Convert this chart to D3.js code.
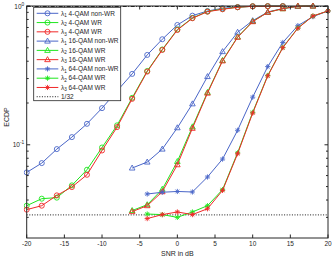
<!DOCTYPE html>
<html>
<head>
<meta charset="utf-8">
<script src="https://cdn.jsdelivr.net/npm/d3@7"></script>
<style>
  body { margin: 0; background: white; }
  text { font-family: "Liberation Sans", Arial, sans-serif; fill: #262626; }
</style>
</head>
<body>
<div id="chart"></div>
<script>
// SNR grid for each modulation
var snr4 = [-20, -18, -16, -14, -12, -10, -8, -6, -4, -2, 0, 2, 4, 6, 8, 10, 12, 14];
var snr16 = [-6, -4, -2, 0, 2, 4, 6, 8, 10, 12, 14, 16, 18];
var snr64 = [-4, -2, 0, 2, 4, 6, 8, 10, 12, 14, 16, 18, 20];

// ECDP values
var qam4NonWR = [0.0632, 0.0738, 0.0931, 0.1136, 0.1416, 0.1837, 0.2446, 0.3242, 0.4441, 0.5761, 0.730, 0.852, 0.920, 0.963, 0.983, 0.995, 0.998, 0.999];
var qam4WR2 = [0.0364, 0.0409, 0.0416, 0.0510, 0.0661, 0.0956, 0.1381, 0.218, 0.340, 0.486, 0.677, 0.820, 0.913, 0.951, 0.980, 0.995, 0.996, 0.996];
var qam4WR3 = [0.0341, 0.0364, 0.0432, 0.0496, 0.0608, 0.0910, 0.1341, 0.2143, 0.3368, 0.4825, 0.672, 0.816, 0.910, 0.947, 0.979, 0.995, 0.996, 0.996];
var qam16NonWR = [0.0680, 0.0751, 0.0931, 0.1326, 0.1972, 0.310, 0.469, 0.647, 0.784, 0.905, 0.960, 0.992, 1.0];
var qam16WR2 = [0.0336, 0.0370, 0.0478, 0.0758, 0.1347, 0.2385, 0.4055, 0.598, 0.774, 0.901, 0.956, 0.998, 0.999];
var qam16WR3 = [0.0330, 0.0364, 0.0459, 0.0718, 0.1314, 0.2355, 0.402, 0.595, 0.771, 0.901, 0.956, 0.998, 0.999];
var qam64NonWR = [0.0442, 0.0455, 0.0461, 0.0457, 0.0586, 0.0789, 0.1272, 0.2203, 0.366, 0.546, 0.722, 0.838, 0.921];
var qam64WR2 = [0.0317, 0.0314, 0.0300, 0.0328, 0.0364, 0.0475, 0.0876, 0.1713, 0.316, 0.503, 0.694, 0.847, 0.921];
var qam64WR3 = [0.0294, 0.0314, 0.0328, 0.0314, 0.0346, 0.0469, 0.0862, 0.1691, 0.3136, 0.501, 0.691, 0.847, 0.921];

var seriesNames = ["4-QAM non-WR", "4-QAM WR", "4-QAM WR", "16-QAM non-WR", "16-QAM WR", "16-QAM WR", "64-QAM non-WR", "64-QAM WR", "64-QAM WR"];
var lambdaIdx = [1, 2, 3, 1, 2, 3, 1, 2, 3];
var xTicks = [-20, -15, -10, -5, 0, 5, 10, 15, 20];
var threshold = 1 / 32;

var blue = "#4a66c8", green = "#1ee61e", red = "#f02828";

var series = [
  { x: snr4, y: qam4NonWR, color: blue, marker: "circle" },
  { x: snr4, y: qam4WR2, color: green, marker: "circle" },
  { x: snr4, y: qam4WR3, color: red, marker: "circle" },
  { x: snr16, y: qam16NonWR, color: blue, marker: "triangle" },
  { x: snr16, y: qam16WR2, color: green, marker: "triangle" },
  { x: snr16, y: qam16WR3, color: red, marker: "triangle" },
  { x: snr64, y: qam64NonWR, color: blue, marker: "star" },
  { x: snr64, y: qam64WR2, color: green, marker: "star" },
  { x: snr64, y: qam64WR3, color: red, marker: "star" }
];

var width = 332, height = 259;
var margin = { left: 26.7, right: 4, top: 6, bottom: 21 };

var svg = d3.select("#chart").append("svg")
  .attr("width", width)
  .attr("height", height);

var xScale = d3.scaleLinear()
  .domain([-20, 20])
  .range([margin.left, width - margin.right]);
var yScale = d3.scaleLog()
  .domain([0.0213, 1])
  .range([height - margin.bottom, margin.top]);

var x0 = xScale.range()[0], x1 = xScale.range()[1];
var yTop = yScale.range()[1], yBot = yScale.range()[0];

svg.append("clipPath").attr("id", "plotClip")
  .append("rect")
  .attr("x", x0 - 3).attr("y", yTop - 3)
  .attr("width", x1 - x0 + 6).attr("height", yBot - yTop + 6);

// reference lines: 1/32 dotted and the upper bound dash-dot
svg.append("line")
  .attr("x1", x0).attr("x2", x1)
  .attr("y1", yScale(threshold)).attr("y2", yScale(threshold))
  .style("stroke", "#000").style("stroke-width", 0.9)
  .style("stroke-dasharray", "1,1.6");
svg.append("line")
  .attr("x1", x0).attr("x2", x1)
  .attr("y1", yScale(1) + 0.5).attr("y2", yScale(1) + 0.5)
  .style("stroke", "#000").style("stroke-width", 0.9)
  .style("stroke-dasharray", "4,1.5,1,1.5");

function markerPath(type) {
  if (type === "circle") {
    return d3.symbol().type(d3.symbolCircle).size(20)();
  } else if (type === "triangle") {
    return "M0,-3L2.8,2L-2.8,2Z";
  }
  // asterisk: plus and cross
  var r = 2.6, d = r * 0.707;
  return "M" + (-r) + ",0L" + r + ",0M0," + (-r) + "L0," + r +
    "M" + (-d) + "," + (-d) + "L" + d + "," + d +
    "M" + (-d) + "," + d + "L" + d + "," + (-d);
}

var line = d3.line()
  .x(function(d) { return xScale(d[0]); })
  .y(function(d) { return yScale(d[1]); });

var plotLayer = svg.append("g").attr("clip-path", "url(#plotClip)");
series.forEach(function(s) {
  var pts = s.x.map(function(v, i) { return [v, s.y[i]]; });
  var g = plotLayer.append("g");
  g.append("path")
    .datum(pts)
    .attr("d", line)
    .style("fill", "none")
    .style("stroke", s.color)
    .style("stroke-width", 1);
  g.selectAll("path.mk")
    .data(pts)
    .enter()
    .append("path")
    .attr("class", "mk")
    .attr("d", markerPath(s.marker))
    .attr("transform", function(d) { return "translate(" + xScale(d[0]) + "," + yScale(d[1]) + ")"; })
    .style("fill", "none")
    .style("stroke", s.color)
    .style("stroke-width", 0.9);
});

// axes box with inward ticks on all four sides
var axisColor = "#262626";
var box = svg.append("g");
box.append("rect")
  .attr("x", x0).attr("y", yTop)
  .attr("width", x1 - x0).attr("height", yBot - yTop)
  .style("fill", "none").style("stroke", axisColor).style("stroke-width", 1);

xTicks.forEach(function(t) {
  var xx = xScale(t);
  box.append("line").attr("x1", xx).attr("x2", xx).attr("y1", yBot).attr("y2", yBot - 3.5).style("stroke", axisColor);
  box.append("line").attr("x1", xx).attr("x2", xx).attr("y1", yTop).attr("y2", yTop + 3.5).style("stroke", axisColor);
  box.append("text")
    .attr("x", xx).attr("y", yBot + 8)
    .attr("text-anchor", "middle")
    .style("font-size", "6.5px")
    .text(t);
});

var yMajor = [0.1, 1];
var yMinor = [0.03, 0.04, 0.05, 0.06, 0.07, 0.08, 0.09, 0.2, 0.3, 0.4, 0.5, 0.6, 0.7, 0.8, 0.9];
yMinor.forEach(function(t) {
  var yy = yScale(t);
  box.append("line").attr("x1", x0).attr("x2", x0 + 2).attr("y1", yy).attr("y2", yy).style("stroke", axisColor);
  box.append("line").attr("x1", x1).attr("x2", x1 - 2).attr("y1", yy).attr("y2", yy).style("stroke", axisColor);
});
yMajor.forEach(function(t) {
  var yy = yScale(t);
  box.append("line").attr("x1", x0).attr("x2", x0 + 3.5).attr("y1", yy).attr("y2", yy).style("stroke", axisColor);
  box.append("line").attr("x1", x1).attr("x2", x1 - 3.5).attr("y1", yy).attr("y2", yy).style("stroke", axisColor);
  var lab = box.append("text")
    .attr("x", x0 - 2.5).attr("y", yy + 2.5)
    .attr("text-anchor", "end")
    .style("font-size", "6.5px");
  lab.append("tspan").text("10");
  lab.append("tspan")
    .attr("dy", -3)
    .style("font-size", "4.8px")
    .text(Math.round(Math.log10(t)));
});

// axis labels
svg.append("text")
  .attr("x", (x0 + x1) / 2).attr("y", height - 3)
  .attr("text-anchor", "middle")
  .style("font-size", "7px")
  .text("SNR in dB");
svg.append("text")
  .attr("transform", "translate(9," + 117 + ") rotate(-90)")
  .attr("text-anchor", "middle")
  .style("font-size", "7px")
  .text("ECDP");

// legend
var legend = svg.append("g").attr("transform", "translate(33.7,7.3)");
legend.append("rect")
  .attr("width", 87).attr("height", 93.4)
  .style("fill", "white").style("stroke", axisColor).style("stroke-width", 0.8);

var rowH = 9.27;
series.forEach(function(s, i) {
  var yy = 6 + i * rowH;
  legend.append("line")
    .attr("x1", 3).attr("x2", 24.6).attr("y1", yy).attr("y2", yy)
    .style("stroke", s.color).style("stroke-width", 1);
  legend.append("path")
    .attr("d", markerPath(s.marker))
    .attr("transform", "translate(13.8," + yy + ")")
    .style("fill", "none").style("stroke", s.color).style("stroke-width", 0.9);
  var t = legend.append("text")
    .attr("x", 27.3).attr("y", yy + 2.3)
    .style("font-size", "6.5px");
  t.append("tspan").text("\u03bb");
  t.append("tspan").attr("dy", 1.5).style("font-size", "4.6px").text(lambdaIdx[i]);
  t.append("tspan").attr("dy", -1.5).text(" " + seriesNames[i]);
});
var lastY = 6 + 9 * rowH;
legend.append("line")
  .attr("x1", 3).attr("x2", 24.6).attr("y1", lastY).attr("y2", lastY)
  .style("stroke", "#000").style("stroke-width", 0.9).style("stroke-dasharray", "1,1.6");
legend.append("text")
  .attr("x", 27.3).attr("y", lastY + 2.3)
  .style("font-size", "6.5px")
  .text("1/32");
</script>
</body>
</html>
